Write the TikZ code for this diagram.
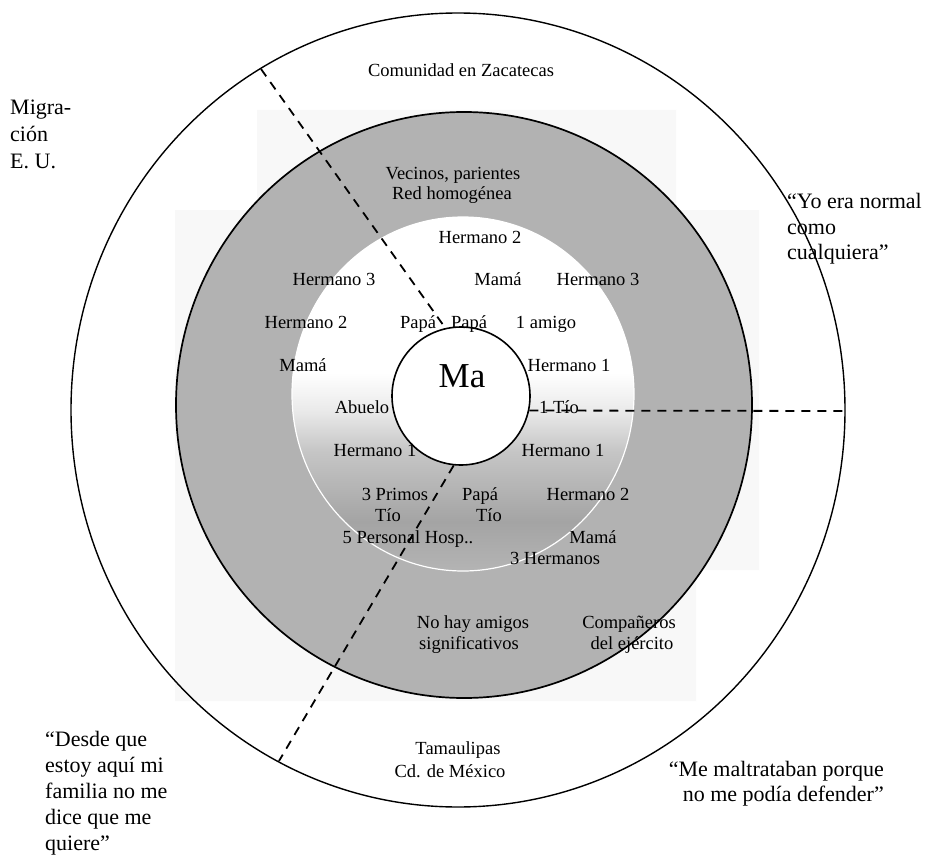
\documentclass[tikz,border=0pt]{standalone}
\usepackage{fontspec}
\setmainfont{Liberation Serif}
\definecolor{band}{HTML}{B2B2B2}
\definecolor{scan}{HTML}{F8F8F8}
\definecolor{sA}{HTML}{B4B4B4}
\definecolor{sB}{HTML}{A4A4A4}
\definecolor{sC}{HTML}{C6C6C6}
\definecolor{sD}{HTML}{EAEAEA}
\pgfdeclareverticalshading{innershade}{100bp}{color(0bp)=(sA); color(25bp)=(sA); color(32bp)=(sB); color(42bp)=(sC); color(47.7bp)=(sD); color(53bp)=(white); color(100bp)=(white)}
\tikzset{
  ring/.style={draw=black, line width=1.4pt},
  dashline/.style={line width=1.8pt, dash pattern=on 9pt off 7pt},
  lbl/.style={font=\fontsize{18.5}{21}\selectfont, inner sep=0pt, anchor=base},
  big/.style={font=\fontsize{22}{26}\selectfont, inner sep=0pt},
}
\begin{document}
\begin{tikzpicture}[x=1pt,y=-1pt]
\useasboundingbox (0,0) rectangle (932,856);
\fill[white] (0,0) rectangle (932,856);
% faint scanned background
\fill[scan] (257,110) -- (676,110) -- (676,210) -- (759,210) -- (759,570) -- (696,570) -- (696,701) -- (175,701) -- (175,210) -- (257,210) -- cycle;
% circles
\draw[ring] (458,410) ellipse [x radius=387, y radius=397];
\draw[ring, line width=1.7pt, fill=band] (464,405) ellipse [x radius=288, y radius=293];
\shade[shading=innershade] (463,394) ellipse [x radius=171, y radius=177];
\draw[white, line width=1.2pt] (463,394) ellipse [x radius=171, y radius=177];
\node[circle, draw=black, line width=1.6pt, fill=white, minimum size=138pt, inner sep=0pt] (ma) at (461,396) {};
% dashed dividers
\coordinate (pA) at (261,69);
\coordinate (pB) at (845,411);
\coordinate (pC) at (279,761);
\draw[dashline] (pA) -- (ma.103.6);
\draw[dashline] (ma.-12.6) -- (pB);
\draw[dashline] (ma.264.4) -- (pC);
% centre
\node[font=\fontsize{35}{35}\selectfont, inner sep=0pt, anchor=base] (matext) at (462,387) {Ma};
% outer ring
\node[lbl] (zac) at (461,77) {Comunidad en Zacatecas};
\node[lbl] (tam1) at (458,754) {Tamaulipas};
\node[lbl] (tam2) at (450,777) {Cd. de México};
% grey band
\node[lbl] (vec1) at (453,179) {Vecinos, parientes};
\node[lbl] (vec2) at (452,200) {Red homogénea};
\node[lbl] (h3l) at (334,285) {Hermano 3};
\node[lbl] (h2l) at (306,328) {Hermano 2};
\node[lbl] (maml) at (303,371) {Mamá};
\node[lbl] (h3r) at (598,285) {Hermano 3};
\node[lbl] (noh1) at (473,628) {No hay amigos};
\node[lbl] (noh2) at (469,649) {significativos};
\node[lbl] (comp1) at (629,628) {Compañeros};
\node[lbl] (comp2) at (632,649) {del ejército};
% inner ring
\node[lbl] (h2t) at (480,243) {Hermano 2};
\node[lbl] (mamt) at (498,285) {Mamá};
\node[lbl] (papl) at (418,328) {Papá};
\node[lbl] (papr) at (469,328) {Papá};
\node[lbl] (ami) at (546,328) {1 amigo};
\node[lbl] (h1r) at (569,371) {Hermano 1};
\node[lbl] (abu) at (362,413) {Abuelo};
\node[lbl] (tio1) at (559,413) {1 Tío};
\node[lbl] (h1bl) at (375,456) {Hermano 1};
\node[lbl] (h1br) at (563,456) {Hermano 1};
\node[lbl] (pri) at (395,500) {3 Primos};
\node[lbl] (papb) at (480,500) {Papá};
\node[lbl] (h2b) at (588,500) {Hermano 2};
\node[lbl] (tiol) at (388,521) {Tío};
\node[lbl] (tior) at (489,521) {Tío};
\node[lbl] (per) at (408,543) {5 Personal Hosp..};
\node[lbl] (mamb) at (593,543) {Mamá};
\node[lbl] (her3) at (555,564) {3 Hermanos};
% side texts
\node[big, anchor=base west] (mig1) at (10,115) {Migra-};
\node[big, anchor=base west] (mig2) at (10,142) {ción};
\node[big, anchor=base west] (mig3) at (10,168) {E. U.};
\node[big, anchor=base west] (yo1) at (787,208) {“Yo era normal};
\node[big, anchor=base west] (yo2) at (787,234) {como};
\node[big, anchor=base west] (yo3) at (787,259) {cualquiera”};
\node[big, anchor=base west] (des1) at (45,746) {“Desde que};
\node[big, anchor=base west] (des2) at (45,772) {estoy aquí mi};
\node[big, anchor=base west] (des3) at (45,798) {familia no me};
\node[big, anchor=base west] (des4) at (45,824) {dice que me};
\node[big, anchor=base west] (des5) at (45,850) {quiere”};
\node[big, anchor=base east] (mal1) at (884,776) {“Me maltrataban porque};
\node[big, anchor=base east] (mal2) at (884,801) {no me podía defender”};
\end{tikzpicture}
\end{document}
